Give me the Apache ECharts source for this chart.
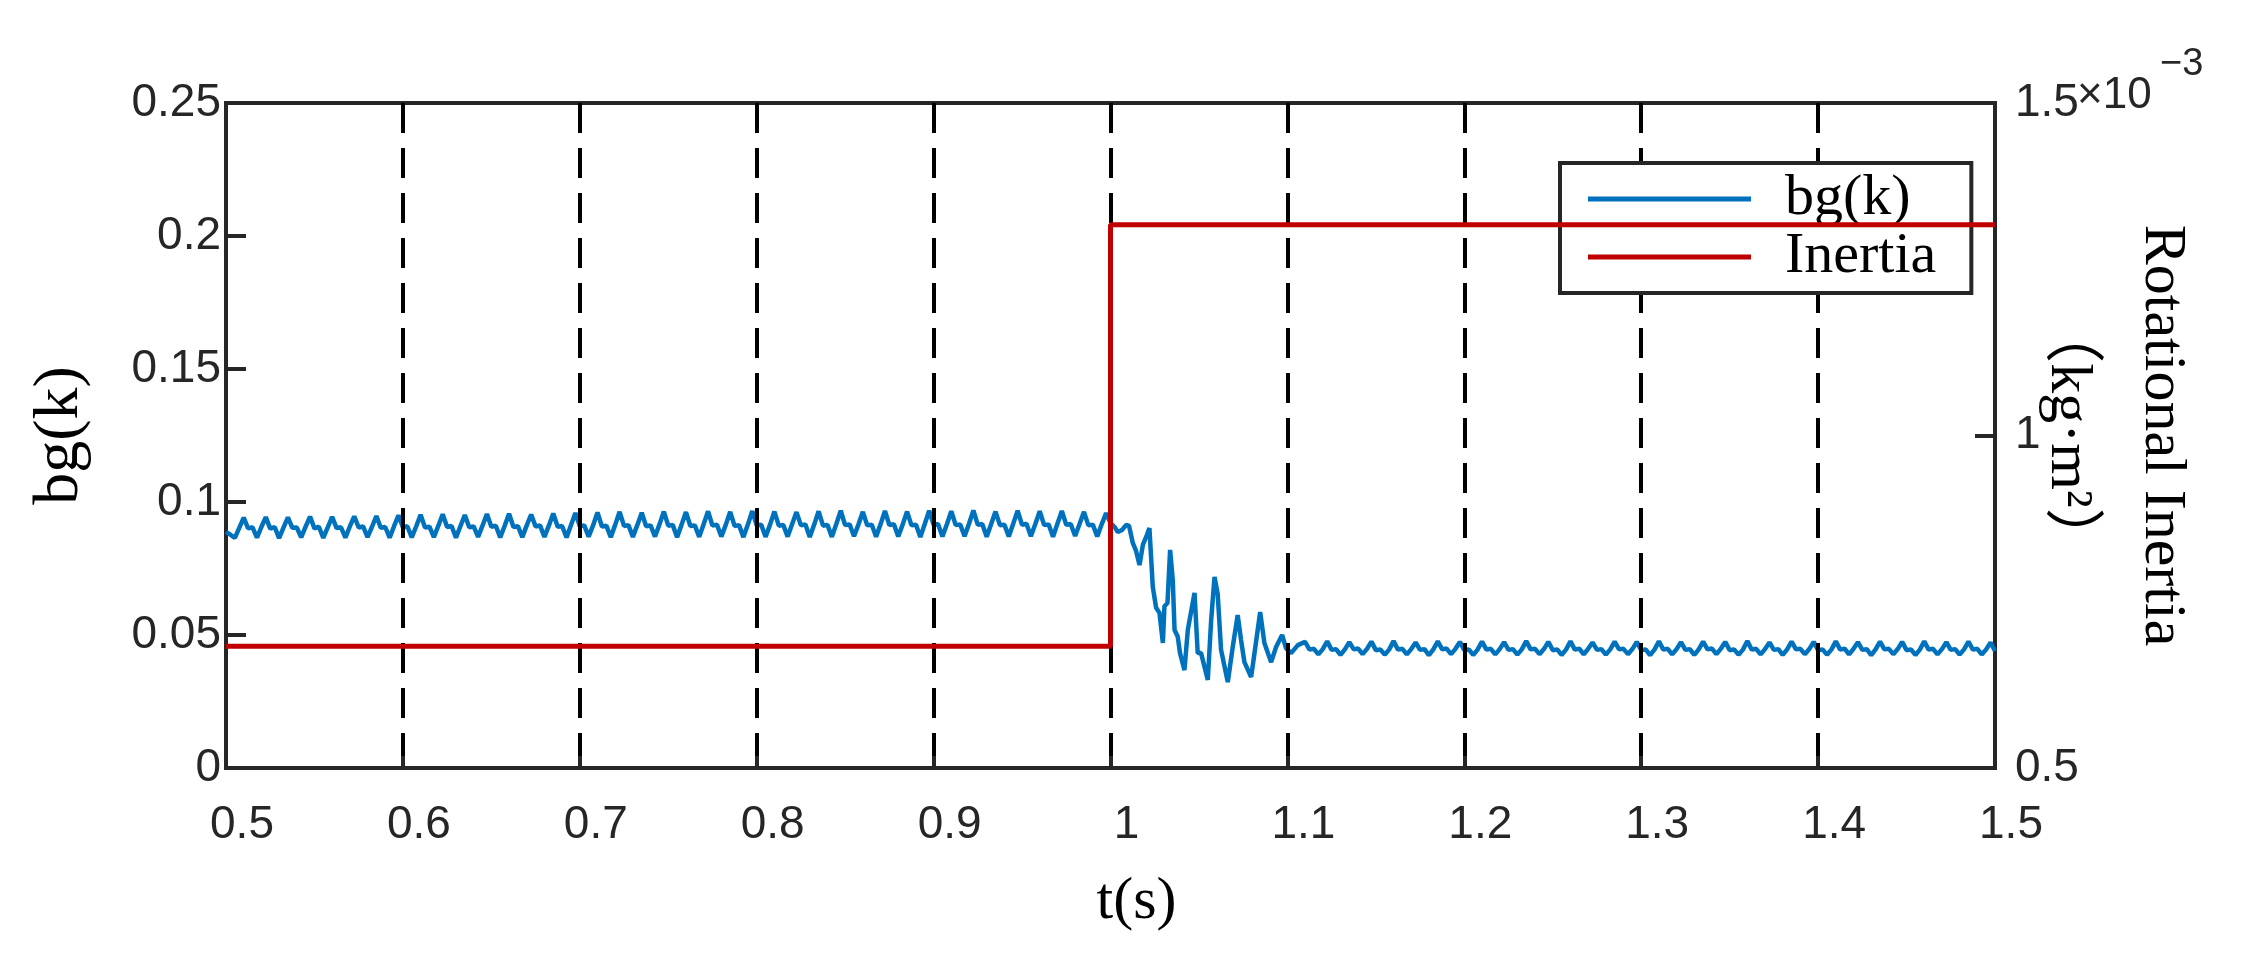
<!DOCTYPE html>
<html>
  <head>
    <meta charset="utf-8" />
    <script src="https://cdn.jsdelivr.net/npm/echarts@6.0.0/dist/echarts.min.js"></script>
    <style>
      body {
        margin: 0;
        background: #fff;
      }

      #main {
        width: 2248px;
        height: 956px;
      }
    </style>
  </head>
  <body>
    <div id="main"></div>
    <script>
      // bg(k) before the inertia step: one sample every 2.5 ms from t = 0.5 s
      const bgStartBefore = 0.5;
      const bgStepBefore = 0.0025;
      const bgBefore = [
        0.0888, 0.0877, 0.0865, 0.0903, 0.0941,
        0.0901, 0.0905, 0.0866, 0.0906, 0.0943,
        0.0900, 0.0906, 0.0864, 0.0904, 0.0942,
        0.0903, 0.0904, 0.0867, 0.0907, 0.0945,
        0.0901, 0.0907, 0.0865, 0.0905, 0.0944,
        0.0902, 0.0905, 0.0866, 0.0908, 0.0946,
        0.0904, 0.0908, 0.0868, 0.0906, 0.0947,
        0.0903, 0.0906, 0.0866, 0.0909, 0.0950,
        0.0905, 0.0909, 0.0867, 0.0908, 0.0952,
        0.0904, 0.0907, 0.0868, 0.0910, 0.0954,
        0.0906, 0.0910, 0.0866, 0.0909, 0.0951,
        0.0905, 0.0908, 0.0869, 0.0911, 0.0955,
        0.0907, 0.0911, 0.0867, 0.0910, 0.0956,
        0.0906, 0.0909, 0.0868, 0.0912, 0.0953,
        0.0908, 0.0912, 0.0869, 0.0911, 0.0957,
        0.0907, 0.0910, 0.0867, 0.0913, 0.0959,
        0.0909, 0.0912, 0.0870, 0.0912, 0.0961,
        0.0908, 0.0911, 0.0868, 0.0914, 0.0963,
        0.0910, 0.0913, 0.0869, 0.0913, 0.0960,
        0.0909, 0.0912, 0.0870, 0.0915, 0.0964,
        0.0911, 0.0914, 0.0868, 0.0914, 0.0962,
        0.0910, 0.0912, 0.0869, 0.0916, 0.0965,
        0.0911, 0.0915, 0.0870, 0.0914, 0.0963,
        0.0910, 0.0913, 0.0868, 0.0915, 0.0966,
        0.0912, 0.0915, 0.0869, 0.0914, 0.0964,
        0.0911, 0.0914, 0.0870, 0.0916, 0.0962,
        0.0912, 0.0916, 0.0868, 0.0915, 0.0965,
        0.0911, 0.0914, 0.0869, 0.0917, 0.0967,
        0.0913, 0.0916, 0.0871, 0.0915, 0.0963,
        0.0912, 0.0915, 0.0869, 0.0916, 0.0966,
        0.0913, 0.0917, 0.0870, 0.0915, 0.0964,
        0.0912, 0.0915, 0.0868, 0.0917, 0.0967,
        0.0914, 0.0917, 0.0870, 0.0916, 0.0965,
        0.0913, 0.0916, 0.0871, 0.0918, 0.0968,
        0.0914, 0.0917, 0.0869, 0.0916, 0.0964,
        0.0913, 0.0915, 0.0870, 0.0918, 0.0967,
        0.0914, 0.0918, 0.0871, 0.0917, 0.0965,
        0.0913, 0.0916, 0.0869, 0.0918, 0.0966,
        0.0914, 0.0917, 0.0872, 0.0917, 0.0963,
        0.0912, 0.0915, 0.0870, 0.0916, 0.0958,
        0.0921
      ];

      // transient right after the step, read point by point as [t, bg(k)]
      const bgTransient = [
        [1.0025, 0.0905], [1.0041, 0.0887], [1.0065, 0.0895], [1.0089, 0.0914],
        [1.0105, 0.0910], [1.0126, 0.0846], [1.0145, 0.0815], [1.0164, 0.0763],
        [1.0183, 0.0839], [1.0205, 0.0875], [1.0220, 0.0902], [1.0239, 0.0681],
        [1.0258, 0.0602], [1.0277, 0.0583], [1.0296, 0.0470], [1.0305, 0.0608],
        [1.0322, 0.0620], [1.0337, 0.0820], [1.0352, 0.0707], [1.0362, 0.0519],
        [1.0380, 0.0494], [1.0393, 0.0432], [1.0418, 0.0368], [1.0437, 0.0519],
        [1.0475, 0.0658], [1.0493, 0.0432], [1.0512, 0.0432], [1.0550, 0.0331],
        [1.0569, 0.0556], [1.0588, 0.0718], [1.0606, 0.0654], [1.0625, 0.0444],
        [1.0663, 0.0323], [1.0691, 0.0455], [1.0719, 0.0575], [1.0738, 0.0481],
        [1.0757, 0.0398], [1.0795, 0.0342], [1.0814, 0.0432], [1.0846, 0.0586],
        [1.0870, 0.0470], [1.0908, 0.0398], [1.0936, 0.0455], [1.0970, 0.0500],
        [1.0992, 0.0451], [1.1021, 0.0432], [1.1059, 0.0462]
      ];

      // bg(k) after settling: one sample every 2.5 ms from t = 1.11 s
      const bgStartAfter = 1.11;
      const bgStepAfter = 0.0025;
      const bgAfter = [
        0.0474, 0.0445, 0.0448, 0.0427, 0.0447,
        0.0476, 0.0444, 0.0447, 0.0425, 0.0446,
        0.0473, 0.0446, 0.0449, 0.0428, 0.0448,
        0.0475, 0.0443, 0.0446, 0.0426, 0.0445,
        0.0477, 0.0445, 0.0448, 0.0427, 0.0447,
        0.0472, 0.0444, 0.0447, 0.0424, 0.0446,
        0.0476, 0.0446, 0.0449, 0.0428, 0.0448,
        0.0474, 0.0443, 0.0446, 0.0425, 0.0445,
        0.0475, 0.0445, 0.0448, 0.0427, 0.0447,
        0.0473, 0.0444, 0.0447, 0.0426, 0.0446,
        0.0477, 0.0446, 0.0448, 0.0428, 0.0447,
        0.0474, 0.0443, 0.0446, 0.0425, 0.0445,
        0.0476, 0.0445, 0.0449, 0.0427, 0.0448,
        0.0472, 0.0444, 0.0447, 0.0426, 0.0446,
        0.0475, 0.0446, 0.0448, 0.0428, 0.0447,
        0.0474, 0.0443, 0.0446, 0.0424, 0.0445,
        0.0476, 0.0445, 0.0448, 0.0427, 0.0447,
        0.0473, 0.0444, 0.0447, 0.0425, 0.0446,
        0.0475, 0.0446, 0.0449, 0.0428, 0.0448,
        0.0474, 0.0443, 0.0446, 0.0426, 0.0445,
        0.0477, 0.0445, 0.0448, 0.0427, 0.0447,
        0.0472, 0.0444, 0.0447, 0.0425, 0.0446,
        0.0475, 0.0446, 0.0448, 0.0428, 0.0447,
        0.0474, 0.0443, 0.0446, 0.0426, 0.0445,
        0.0476, 0.0445, 0.0449, 0.0427, 0.0448,
        0.0473, 0.0444, 0.0447, 0.0424, 0.0446,
        0.0475, 0.0446, 0.0448, 0.0428, 0.0447,
        0.0474, 0.0443, 0.0446, 0.0425, 0.0445,
        0.0476, 0.0445, 0.0448, 0.0427, 0.0447,
        0.0473, 0.0444, 0.0447, 0.0426, 0.0446,
        0.0475, 0.0445, 0.0448, 0.0427, 0.0446,
        0.0472, 0.0440
      ];

      // rotational inertia, kg·m², stepped at t = 1 s
      const inertiaTimes = [0.5, 1.0, 1.0, 1.5];
      const inertiaValues = [0.683e-3, 0.683e-3, 1.317e-3, 1.317e-3];

      const bgData = bgBefore
        .map((v, i) => [bgStartBefore + i * bgStepBefore, v])
        .concat(bgTransient)
        .concat(bgAfter.map((v, i) => [bgStartAfter + i * bgStepAfter, v]));
      const inertiaData = inertiaTimes.map((t, i) => [t, inertiaValues[i]]);

      const axisColor = '#262626';
      const sans = '"Liberation Sans", Arial, sans-serif';
      const serif = '"Liberation Serif", "Times New Roman", serif';

      const chart = echarts.init(document.getElementById('main'));

      chart.setOption({
        animation: false,
        backgroundColor: '#fff',
        grid: {
          left: 226,
          right: 253,
          top: 103,
          bottom: 188,
          outerBoundsMode: 'none',
          show: true,
          borderColor: axisColor,
          borderWidth: 4,
        },
        legend: {
          left: 1560,
          top: 163,
          orient: 'vertical',
          icon: 'rect',
          itemWidth: 163,
          itemHeight: 5,
          itemGap: 0,
          padding: [7, 35, 7, 28],
          borderColor: axisColor,
          borderWidth: 4,
          backgroundColor: '#fff',
          textStyle: {
            fontFamily: serif,
            fontSize: 58,
            lineHeight: 58,
            color: '#000',
            padding: [0, 0, 0, 29],
          },
          data: ['bg(k)', 'Inertia'],
        },
        graphic: [
          {
            type: 'text',
            left: 2077,
            top: 74,
            style: { text: '×10', fontFamily: sans, fontSize: 44, fill: axisColor },
          },
          {
            type: 'text',
            left: 2160,
            top: 46,
            style: { text: '−3', fontFamily: sans, fontSize: 38, fill: axisColor },
          },
        ],
        xAxis: {
          type: 'value',
          min: 0.5,
          max: 1.5,
          interval: 0.1,
          z: 3,
          name: 't(s)',
          nameLocation: 'middle',
          nameGap: 104,
          nameMoveOverlap: false,
          nameTextStyle: {
            fontFamily: serif,
            fontSize: 60,
            lineHeight: 60,
            color: '#000',
            padding: [0, 0, 0, 52],
          },
          axisLine: { show: false },
          axisTick: {
            show: true,
            inside: true,
            length: 12,
            lineStyle: { color: axisColor, width: 4 },
          },
          axisLabel: {
            fontFamily: sans,
            fontSize: 46,
            color: axisColor,
            margin: 34,
            padding: [0, 0, 0, 32],
          },
          splitLine: {
            show: true,
            showMinLine: false,
            showMaxLine: false,
            lineStyle: { color: '#000', width: 4, type: [30, 15] },
          },
        },
        yAxis: [
          {
            type: 'value',
            min: 0,
            max: 0.25,
            interval: 0.05,
            name: 'bg(k)',
            nameLocation: 'middle',
            nameRotate: 90,
            nameGap: 134,
            nameMoveOverlap: false,
            nameTextStyle: {
              fontFamily: serif,
              fontSize: 64,
              lineHeight: 64,
              color: '#000',
            },
            axisLine: { show: false },
            axisTick: {
              show: true,
              inside: true,
              length: 20,
              lineStyle: { color: axisColor, width: 4 },
            },
            axisLabel: {
              fontFamily: sans,
              fontSize: 46,
              color: axisColor,
              margin: 5,
              padding: [18, 0, 0, 0],
            },
            splitLine: { show: false },
          },
          {
            type: 'value',
            position: 'right',
            min: 0.0005,
            max: 0.0015,
            interval: 0.0005,
            name: 'Rotational Inertia\n（kg·m²）',
            nameLocation: 'middle',
            nameRotate: -90,
            nameGap: 26,
            nameMoveOverlap: false,
            nameTextStyle: {
              fontFamily: serif + ', "Noto Sans CJK SC"',
              fontSize: 60,
              lineHeight: 94,
              color: '#000',
            },
            axisLine: { show: false },
            axisTick: {
              show: true,
              inside: true,
              length: 20,
              lineStyle: { color: axisColor, width: 4 },
            },
            axisLabel: {
              fontFamily: sans,
              fontSize: 46,
              color: axisColor,
              margin: 20,
              formatter: (v) => String(+(v * 1000).toFixed(3)),
            },
            splitLine: { show: false },
          },
        ],
        series: [
          {
            name: 'bg(k)',
            type: 'line',
            yAxisIndex: 0,
            data: bgData,
            symbol: 'none',
            z: 2,
            lineStyle: { color: '#0072BD', width: 4.5 },
            itemStyle: { color: '#0072BD' },
          },
          {
            name: 'Inertia',
            type: 'line',
            yAxisIndex: 1,
            data: inertiaData,
            symbol: 'none',
            z: 4,
            lineStyle: { color: '#C00000', width: 5 },
            itemStyle: { color: '#C00000' },
          },
        ],
      });
    </script>
  </body>
</html>
